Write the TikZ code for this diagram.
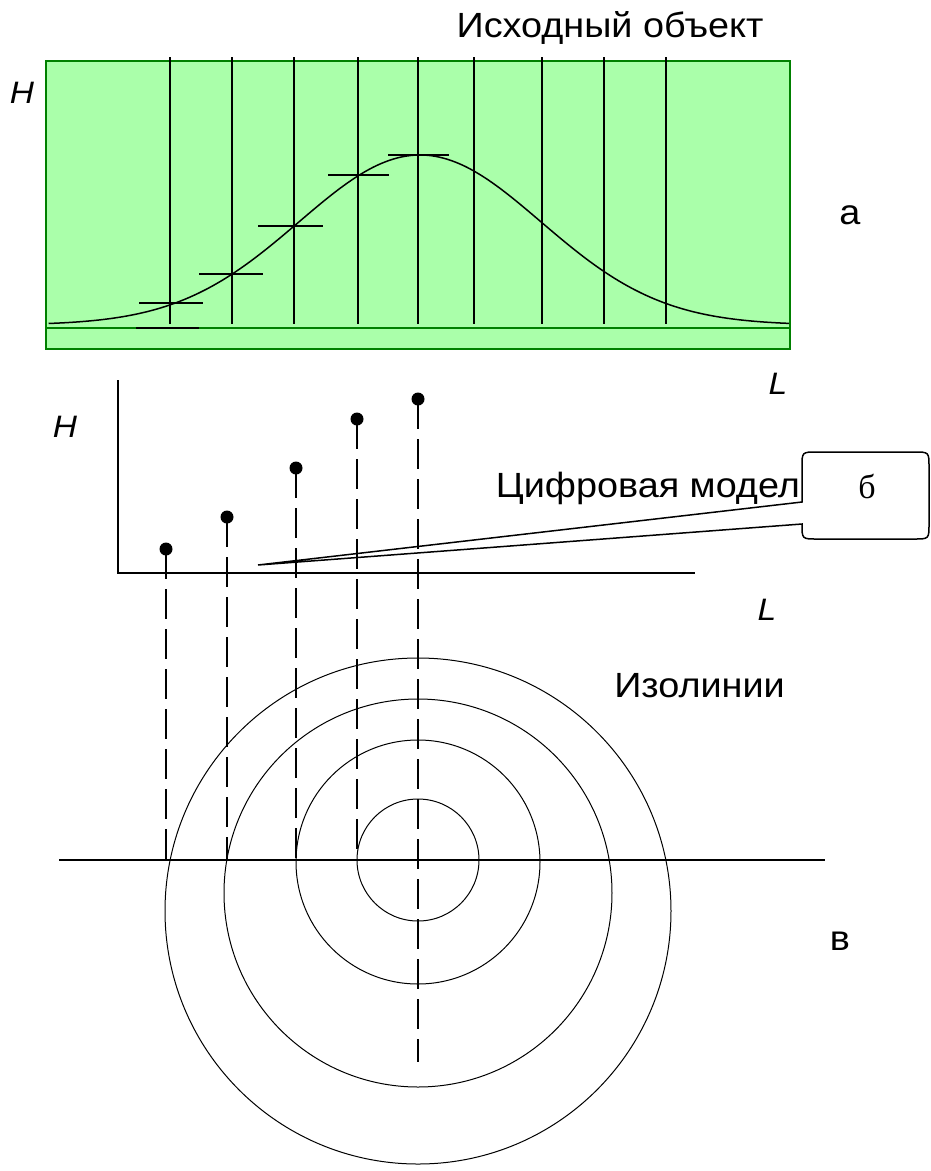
\documentclass[tikz,border=0pt]{standalone}
\usepackage{fontspec}
\setmainfont{Liberation Sans}[FakeStretch=1.08]
\newfontfamily\serifcyr{Liberation Serif}
\definecolor{objfill}{RGB}{170,255,170}
\definecolor{objedge}{RGB}{0,128,0}
\begin{document}
\begin{tikzpicture}[x=1pt, y=-1pt,
    lbl/.style={inner sep=0pt, anchor=base, font=\fontsize{35}{40}\selectfont},
    axlbl/.style={inner sep=0pt, anchor=base, font=\fontsize{31}{36}\selectfont\itshape},
    dotnode/.style={circle, fill=black, inner sep=0pt, minimum size=13pt},
    proj/.style={line width=1.5pt, dash pattern=on 30pt off 10pt},
    iso/.style={line width=1pt},
    axis/.style={line width=1.8pt}
  ]
  \useasboundingbox (0,0) rectangle (930,1171);

  % source object
  \node[lbl] (title) at (610,37) {Исходный объект};
  \draw[objedge, fill=objfill, line width=2pt] (46,61) rectangle (790,349);
  \draw[objedge, line width=2pt] (46,328) -- (790,328);
  \foreach \x in {170,232,294,358,418,474,542,604,666}
    \draw[line width=1.4pt] (\x,57) -- (\x,324);
  \draw[line width=1.5pt] plot[domain=-3.07:3.05, samples=90, smooth]
    ({420+121*\x}, {325-170*exp(-\x*\x/2)});
  \foreach \a/\b/\y in {139/203/303, 199/263/274, 258/323/226, 328/389/175, 388/449/155}
    \draw[line width=1.8pt] (\a,\y) -- (\b,\y);
  \draw[line width=2.6pt] (136,328) -- (199,328);
  \node[axlbl] (h1) at (22,103) {H};
  \node[lbl] (la) at (850,224) {а};
  \node[axlbl] (l1) at (778,394) {L};

  % digital model
  \draw[axis] (118,380) -- (118,573) -- (695,573);
  \node[axlbl] (h2) at (65,437) {H};
  \node[axlbl] (l2) at (767,620) {L};
  \node[lbl, anchor=base east] (model) at (800,497) {Цифровая модел};
  \coordinate (tip) at (258,565);
  \draw[line width=1.5pt, fill=white] (802,502) -- (tip) -- (802,524)
    .. controls (802,539) .. (817,539) -- (914,539)
    .. controls (929,539) .. (929,524) -- (929,467)
    .. controls (929,452) .. (914,452) -- (817,452)
    .. controls (802,452) .. (802,467) -- cycle;
  \node[inner sep=0pt, anchor=base, font=\serifcyr\fontsize{34}{40}\selectfont] (lb) at (867,498) {б};

  % isolines
  \draw[axis] (59,860) -- (825,860);
  \foreach \cy/\r in {860/61, 862/122, 893/194, 911/253}
    \draw[iso] (418,\cy) circle[radius=\r];
  \foreach \i/\x/\y/\e in {1/166/549/860, 2/227/517/860, 3/296/468/860, 4/357/419/860, 5/418/399/1062} {
    \node[dotnode] (d\i) at (\x,\y) {};
    \coordinate (f\i) at (\x,\e);
    \draw[proj] (d\i.center) -- (f\i);
  }
  \node[lbl, anchor=base east] (iso) at (785,697) {Изолинии};
  \node[lbl] (lv) at (840,950) {в};
\end{tikzpicture}
\end{document}
